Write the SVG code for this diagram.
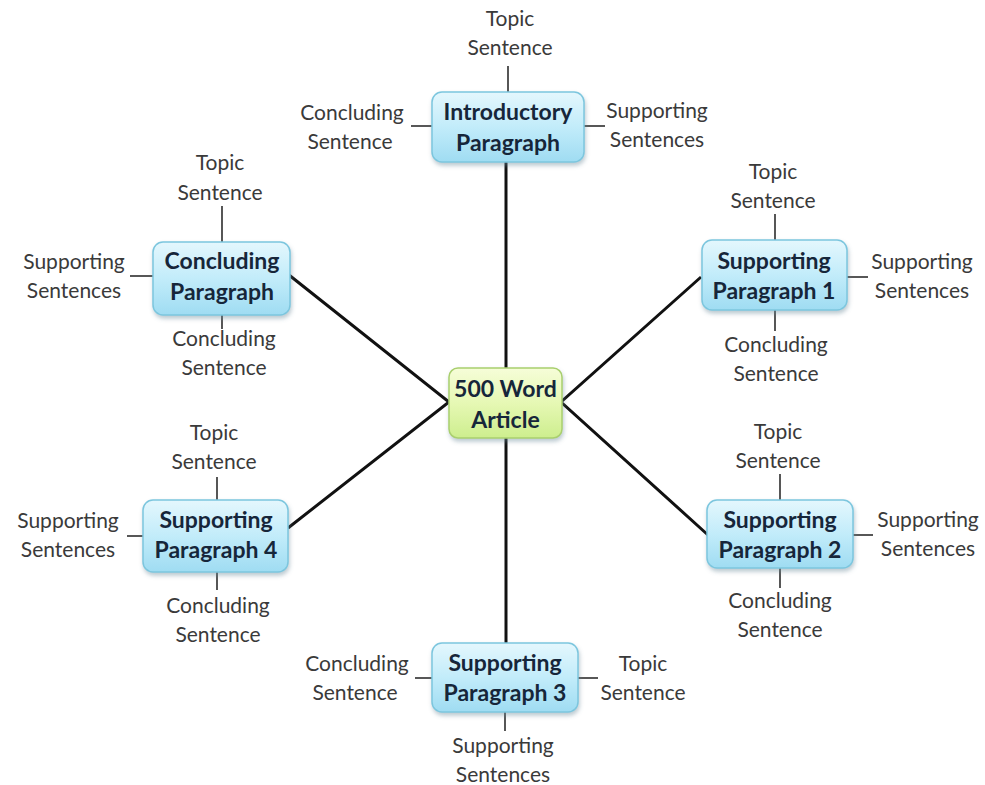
<svg xmlns="http://www.w3.org/2000/svg" width="985" height="785" viewBox="0 0 985 785">
  <defs>
    <linearGradient id="blueFill" x1="0" y1="0" x2="0" y2="1">
      <stop offset="0" stop-color="#e4f7fd"/>
      <stop offset="0.5" stop-color="#c2ecfa"/>
      <stop offset="1" stop-color="#9fdcf2"/>
    </linearGradient>
    <linearGradient id="greenFill" x1="0" y1="0" x2="0" y2="1">
      <stop offset="0" stop-color="#f6fdd8"/>
      <stop offset="0.5" stop-color="#e6f8b4"/>
      <stop offset="1" stop-color="#cdee8e"/>
    </linearGradient>
    <filter id="shadow" x="-10%" y="-10%" width="125%" height="135%">
      <feDropShadow dx="1" dy="3" stdDeviation="2" flood-color="#6a8a99" flood-opacity="0.45"/>
    </filter>
  </defs>
  <style>
    .box { fill: url(#blueFill); stroke: #7cc6de; stroke-width: 1.5; filter: url(#shadow); }
    .hub { fill: url(#greenFill); stroke: #a9cf6e; stroke-width: 1.5; filter: url(#shadow); }
    .title { font-family: Lato, "Noto Sans", "Liberation Sans", sans-serif; font-weight: bold; font-size: 23px; fill: #16263a; text-anchor: middle; }
    .label { font-family: Lato, "Noto Sans", "Liberation Sans", sans-serif; font-size: 21px; fill: #3a3a3a; text-anchor: middle; }
    .spoke { stroke: #111; stroke-width: 3; fill: none; }
    .tick { stroke: #444; stroke-width: 1.8; fill: none; }
  </style>
  <rect width="985" height="785" fill="#ffffff"/>

  <!-- connectors: hub spokes and label ticks -->
  <g id="connectors">
    <line class="spoke" x1="506" y1="162" x2="506" y2="368"/>
    <line class="spoke" x1="506" y1="438" x2="506" y2="643"/>
    <polyline class="spoke" points="289,275 449,402 288,528"/>
    <polyline class="spoke" points="701,277 561,402 708,535"/>

    <line class="tick" x1="508" y1="66" x2="508" y2="92"/>
    <line class="tick" x1="411" y1="126" x2="432" y2="126"/>
    <line class="tick" x1="584" y1="126" x2="605" y2="126"/>

    <line class="tick" x1="222" y1="206" x2="222" y2="242"/>
    <line class="tick" x1="130" y1="276" x2="153" y2="276"/>
    <line class="tick" x1="222" y1="315" x2="222" y2="329"/>

    <line class="tick" x1="775" y1="214" x2="775" y2="240"/>
    <line class="tick" x1="847" y1="277" x2="868" y2="277"/>
    <line class="tick" x1="775" y1="310" x2="775" y2="331"/>

    <line class="tick" x1="780" y1="474" x2="780" y2="500"/>
    <line class="tick" x1="853" y1="535" x2="873" y2="535"/>
    <line class="tick" x1="780" y1="568" x2="780" y2="588"/>

    <line class="tick" x1="415" y1="678" x2="432" y2="678"/>
    <line class="tick" x1="578" y1="678" x2="598" y2="678"/>
    <line class="tick" x1="505" y1="712" x2="505" y2="731"/>

    <line class="tick" x1="217" y1="477" x2="217" y2="500"/>
    <line class="tick" x1="127" y1="536" x2="143" y2="536"/>
    <line class="tick" x1="217" y1="572" x2="217" y2="590"/>
  </g>

  <g id="hub">
    <rect class="hub" x="449" y="368" width="113" height="70" rx="9"/>
    <text class="title" x="505.5" y="397">500 Word</text>
    <text class="title" x="505.5" y="428">Article</text>
  </g>

  <g id="introductory">
    <rect class="box" x="432" y="92" width="152" height="70" rx="10"/>
    <text class="title" x="508" y="120">Introductory</text>
    <text class="title" x="508" y="151">Paragraph</text>
    <text class="label" x="510" y="26">Topic</text>
    <text class="label" x="510" y="55">Sentence</text>
    <text class="label" x="352" y="120">Concluding</text>
    <text class="label" x="350" y="149">Sentence</text>
    <text class="label" x="657" y="118">Supporting</text>
    <text class="label" x="657" y="147">Sentences</text>
  </g>

  <g id="concluding">
    <rect class="box" x="153" y="242" width="137" height="73" rx="10"/>
    <text class="title" x="222" y="269">Concluding</text>
    <text class="title" x="222" y="300">Paragraph</text>
    <text class="label" x="220" y="170">Topic</text>
    <text class="label" x="220" y="200">Sentence</text>
    <text class="label" x="74" y="269">Supporting</text>
    <text class="label" x="74" y="298">Sentences</text>
    <text class="label" x="224" y="346">Concluding</text>
    <text class="label" x="224" y="375">Sentence</text>
  </g>

  <g id="supporting1">
    <rect class="box" x="702" y="240" width="145" height="70" rx="10"/>
    <text class="title" x="774" y="269">Supporting</text>
    <text class="title" x="774" y="299">Paragraph 1</text>
    <text class="label" x="773" y="179">Topic</text>
    <text class="label" x="773" y="208">Sentence</text>
    <text class="label" x="922" y="269">Supporting</text>
    <text class="label" x="922" y="298">Sentences</text>
    <text class="label" x="776" y="352">Concluding</text>
    <text class="label" x="776" y="381">Sentence</text>
  </g>

  <g id="supporting2">
    <rect class="box" x="707" y="500" width="146" height="68" rx="10"/>
    <text class="title" x="780" y="528">Supporting</text>
    <text class="title" x="780" y="558">Paragraph 2</text>
    <text class="label" x="778" y="439">Topic</text>
    <text class="label" x="778" y="468">Sentence</text>
    <text class="label" x="928" y="527">Supporting</text>
    <text class="label" x="928" y="556">Sentences</text>
    <text class="label" x="780" y="608">Concluding</text>
    <text class="label" x="780" y="637">Sentence</text>
  </g>

  <g id="supporting3">
    <rect class="box" x="432" y="643" width="146" height="69" rx="10"/>
    <text class="title" x="505" y="671">Supporting</text>
    <text class="title" x="505" y="701">Paragraph 3</text>
    <text class="label" x="357" y="671">Concluding</text>
    <text class="label" x="355" y="700">Sentence</text>
    <text class="label" x="643" y="671">Topic</text>
    <text class="label" x="643" y="700">Sentence</text>
    <text class="label" x="503" y="753">Supporting</text>
    <text class="label" x="503" y="782">Sentences</text>
  </g>

  <g id="supporting4">
    <rect class="box" x="143" y="500" width="145" height="72" rx="10"/>
    <text class="title" x="216" y="528">Supporting</text>
    <text class="title" x="216" y="558">Paragraph 4</text>
    <text class="label" x="214" y="440">Topic</text>
    <text class="label" x="214" y="469">Sentence</text>
    <text class="label" x="68" y="528">Supporting</text>
    <text class="label" x="68" y="557">Sentences</text>
    <text class="label" x="218" y="613">Concluding</text>
    <text class="label" x="218" y="642">Sentence</text>
  </g>
</svg>
